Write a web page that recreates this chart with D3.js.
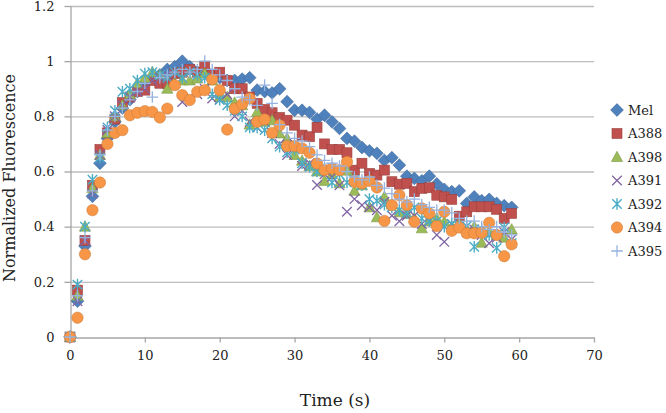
<!DOCTYPE html>
<html><head><meta charset="utf-8">
<script src="https://cdn.jsdelivr.net/npm/d3@7"></script>
<style>body{margin:0;background:#fff}svg{display:block}</style>
</head><body><svg id="c" width="666" height="413"></svg>
<script>
const seriesNames = ["Mel","A388","A398","A391","A392","A394","A395"];
const timeS = d3.range(0, 60);
const mel  = [0,0.13,0.33,0.51,0.63,0.72,0.78,0.83,0.86,0.89,0.92,0.94,0.95,0.97,0.98,1.0,0.98,0.96,0.97,0.95,0.94,0.93,0.93,0.935,0.94,0.895,0.89,0.885,0.90,0.853,0.822,0.822,0.814,0.79,0.804,0.78,0.756,0.72,0.71,0.687,0.675,0.666,0.64,0.65,0.623,0.583,0.575,0.566,0.583,0.555,0.535,0.527,0.53,0.484,0.508,0.494,0.499,0.484,0.476,0.47];
const a388 = [0,0.17,0.35,0.55,0.68,0.74,0.79,0.85,0.87,0.89,0.895,0.93,0.92,0.92,0.955,0.96,0.97,0.96,0.98,0.95,0.96,0.93,0.90,0.90,0.87,0.847,0.825,0.813,0.796,0.786,0.768,0.732,0.726,0.76,0.70,0.68,0.68,0.668,0.605,0.63,0.593,0.587,0.605,0.563,0.554,0.557,0.527,0.539,0.541,0.514,0.508,0.499,0.438,0.454,0.472,0.472,0.472,0.463,0.43,0.448];
const a398 = [0,0.15,0.40,0.54,0.66,0.74,0.80,0.84,0.88,0.92,0.94,0.96,0.95,0.90,0.92,0.93,0.93,0.937,0.955,0.93,0.87,0.87,0.85,0.84,0.77,0.816,0.78,0.786,0.738,0.72,0.66,0.639,0.62,0.60,0.566,0.59,0.557,0.603,0.53,0.55,0.47,0.434,0.508,0.48,0.452,0.446,0.43,0.394,0.42,0.43,0.418,0.40,0.41,0.39,0.40,0.342,0.38,0.37,0.36,0.39];
const a391 = [0,0.13,0.35,0.52,0.66,0.75,0.80,0.84,0.87,0.89,0.90,0.93,0.94,0.95,0.96,0.852,0.87,0.88,0.90,0.865,0.86,0.88,0.80,0.82,0.78,0.76,0.78,0.74,0.70,0.66,0.70,0.62,0.63,0.551,0.59,0.58,0.55,0.454,0.50,0.478,0.47,0.46,0.49,0.44,0.42,0.44,0.44,0.41,0.42,0.37,0.345,0.41,0.39,0.38,0.39,0.37,0.34,0.36,0.38,0.354];
const a392 = [0,0.19,0.40,0.57,0.65,0.76,0.82,0.889,0.90,0.93,0.955,0.96,0.95,0.94,0.96,0.94,0.96,0.95,0.94,0.88,0.86,0.84,0.82,0.80,0.76,0.76,0.75,0.72,0.69,0.67,0.68,0.63,0.617,0.60,0.61,0.56,0.59,0.56,0.57,0.55,0.50,0.494,0.48,0.47,0.46,0.45,0.47,0.43,0.42,0.42,0.40,0.41,0.40,0.402,0.327,0.39,0.37,0.323,0.397,0.34];
const a394 = [0,0.07,0.30,0.46,0.56,0.70,0.74,0.75,0.804,0.813,0.819,0.816,0.796,0.828,0.913,0.877,0.859,0.889,0.895,0.934,0.895,0.752,0.828,0.844,0.865,0.78,0.789,0.74,0.768,0.692,0.692,0.684,0.668,0.629,0.605,0.611,0.605,0.635,0.563,0.557,0.566,0.542,0.421,0.478,0.514,0.478,0.418,0.466,0.448,0.402,0.454,0.385,0.397,0.376,0.376,0.378,0.414,0.37,0.293,0.336];
const a395 = [0,0.15,0.36,0.53,0.66,0.75,0.80,0.83,0.86,0.89,0.92,0.87,0.94,0.95,0.96,0.97,0.96,0.97,1.0,0.97,0.95,0.93,0.90,0.87,0.86,0.84,0.913,0.847,0.77,0.74,0.72,0.71,0.69,0.66,0.64,0.63,0.62,0.60,0.58,0.57,0.58,0.55,0.54,0.52,0.50,0.49,0.50,0.48,0.47,0.46,0.46,0.45,0.43,0.42,0.42,0.40,0.39,0.40,0.38,0.37];
const seriesValues = [mel, a388, a398, a391, a392, a394, a395];
const seriesColors = ["#4F81BD","#C0504D","#9BBB59","#8064A2","#4BACC6","#F79646","#95B3E0"];
const seriesShapes = ["diamond","square","triangle","x","asterisk","circle","plus"];
const xTickValues = [0,10,20,30,40,50,60,70];
const yTickValues = [0,0.2,0.4,0.6,0.8,1.0,1.2];
const yTickLabels = ["0","0.2","0.4","0.6","0.8","1","1.2"];
const xTitle = "Time (s)";
const yTitle = "Normalized Fluorescence";

const svg = d3.select("#c");
const font = "'DejaVu Serif', serif";
const x = d3.scaleLinear().domain([0,70]).range([70,594]);
const y = d3.scaleLinear().domain([0,1.2]).range([337,6]);

svg.append("g").selectAll("line").data(yTickValues.slice(1)).join("line")
  .attr("x1",x(0)).attr("x2",x(70)).attr("y1",d=>y(d)+0.5).attr("y2",d=>y(d)+0.5)
  .attr("stroke","#BDBDBD").attr("stroke-width",1.3);

const xAxis = svg.append("g").attr("transform",`translate(0,${y(0)+0.5})`)
  .call(d3.axisBottom(x).tickValues(xTickValues).tickFormat(d3.format("d")).tickSize(5).tickPadding(8).tickSizeOuter(0));
const yAxis = svg.append("g").attr("transform",`translate(${x(0)+0.5},0)`)
  .call(d3.axisLeft(y).tickValues(yTickValues).tickFormat((d,i)=>yTickLabels[i]).tickSize(6).tickPadding(10).tickSizeOuter(0));
[xAxis,yAxis].forEach(g=>{
  g.select(".domain").attr("stroke","#A6A6A6").attr("stroke-width",1.3);
  g.selectAll(".tick line").attr("stroke","#A6A6A6").attr("stroke-width",1.3);
  g.selectAll("text").attr("font-family",font).attr("font-size",13).attr("fill","#222");
});

function marker(sel, shape, color){
  const dark = d3.color(color).darker(0.6).toString();
  if(shape==="diamond"){
    sel.append("path").attr("d","M0,-6.4L6.4,0L0,6.4L-6.4,0Z").attr("fill",color).attr("stroke",dark).attr("stroke-width",0.6);
  } else if(shape==="square"){
    sel.append("rect").attr("x",-5).attr("y",-5).attr("width",10).attr("height",10).attr("fill",color).attr("stroke",dark).attr("stroke-width",0.6);
  } else if(shape==="triangle"){
    sel.append("path").attr("d","M0,-5.8L5.6,4.5L-5.6,4.5Z").attr("fill",color).attr("stroke",dark).attr("stroke-width",0.6);
  } else if(shape==="circle"){
    sel.append("circle").attr("r",5.7).attr("fill",color).attr("stroke",dark).attr("stroke-width",0.5);
  } else if(shape==="x"){
    sel.append("path").attr("d","M-4.8,-4.8L4.8,4.8M-4.8,4.8L4.8,-4.8").attr("stroke",color).attr("stroke-width",1.3).attr("fill","none");
  } else if(shape==="asterisk"){
    sel.append("path").attr("d","M-4.7,-4.7L4.7,4.7M-4.7,4.7L4.7,-4.7M0,-5.8L0,5.8").attr("stroke",color).attr("stroke-width",1.4).attr("fill","none");
  } else if(shape==="plus"){
    sel.append("path").attr("d","M-5.8,0L5.8,0M0,-5.8L0,5.8").attr("stroke",color).attr("stroke-width",1.3).attr("fill","none");
  }
}

seriesNames.forEach((name,si)=>{
  const g = svg.append("g").attr("class","series");
  const vals = seriesValues[si];
  g.selectAll("g").data(timeS.map((t,i)=>({t, v: vals[i]}))).join("g")
    .attr("transform",d=>`translate(${x(d.t)},${y(d.v)})`)
    .each(function(){ marker(d3.select(this), seriesShapes[si], seriesColors[si]); });
});

const leg = svg.append("g");
seriesNames.forEach((name,i)=>{
  const yy = 110 + i*23.5;
  const g = leg.append("g").attr("transform",`translate(617,${yy})`);
  marker(g, seriesShapes[i], seriesColors[i]);
  leg.append("text").attr("x",628).attr("y",yy+4.5).text(name)
    .attr("font-family",font).attr("font-size",13).attr("fill","#222");
});

svg.append("text").attr("x",335).attr("y",406).attr("text-anchor","middle")
  .attr("font-family",font).attr("font-size",17).attr("fill","#222").text(xTitle);
svg.append("text").attr("transform","translate(15,178) rotate(-90)").attr("text-anchor","middle")
  .attr("font-family",font).attr("font-size",16).attr("fill","#222").text(yTitle);
</script></body></html>
